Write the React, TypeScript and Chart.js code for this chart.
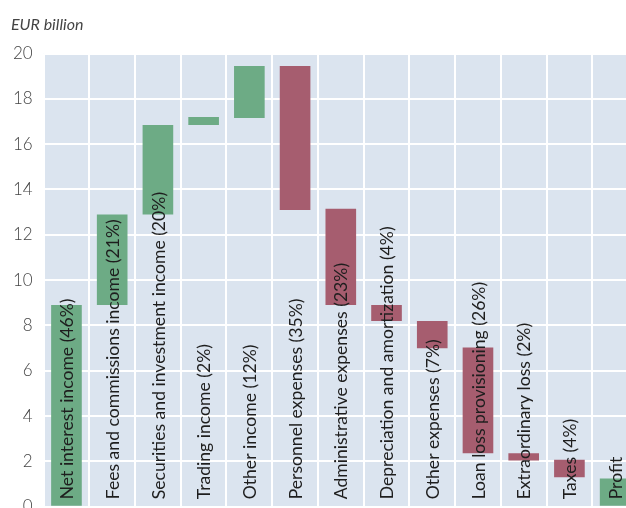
import React, { useEffect, useRef } from "react";
import { Chart, registerables } from "chart.js";

Chart.register(...registerables);

const categories = [
  "Net interest income (46%)",
  "Fees and commissions income (21%)",
  "Securities and investment income (20%)",
  "Trading income (2%)",
  "Other income (12%)",
  "Personnel expenses (35%)",
  "Administrative expenses (23%)",
  "Depreciation and amortization (4%)",
  "Other expenses (7%)",
  "Loan loss provisioning (26%)",
  "Extraordinary loss (2%)",
  "Taxes (4%)",
  "Profit",
];
const barStart = [0, 8.9, 12.9, 16.85, 17.15, 19.45, 13.15, 8.9, 8.2, 7.03, 2.36, 2.08, 0];
const barEnd = [8.9, 12.9, 16.85, 17.2, 19.45, 13.1, 8.9, 8.2, 7.0, 2.36, 2.04, 1.3, 1.25];
const barKind = ["inc", "inc", "inc", "inc", "inc", "exp", "exp", "exp", "exp", "exp", "exp", "exp", "inc"];
const yTicks = [0, 2, 4, 6, 8, 10, 12, 14, 16, 18, 20];
const unitLabel = "EUR billion";

const GREEN = "#6dab85";
const RED = "#a65d6f";
const BG = "#dbe4ef";

export default function App() {
  const ref = useRef<HTMLCanvasElement | null>(null);
  useEffect(() => {
    const canvas = ref.current;
    if (!canvas) return;
    const bgPlugin = {
      id: "bgPlugin",
      beforeDraw(chart: any) {
        const { ctx, chartArea } = chart;
        ctx.save();
        ctx.fillStyle = BG;
        ctx.fillRect(chartArea.left, chartArea.top, chartArea.right - chartArea.left, chartArea.bottom - chartArea.top);
        ctx.restore();
      },
      afterDraw(chart: any) {
        const { ctx, chartArea } = chart;
        const xs = chart.scales.x;
        ctx.save();
        ctx.fillStyle = "#1e1e1e";
        ctx.font = "17.6px Lato";
        ctx.textAlign = "left";
        ctx.textBaseline = "middle";
        categories.forEach((c, i) => {
          const x = xs.getPixelForValue(i);
          ctx.save();
          ctx.translate(x + 1, chartArea.bottom - 7.5);
          ctx.rotate(-Math.PI / 2);
          ctx.fillText(c, 0, 0);
          ctx.restore();
        });
        ctx.fillStyle = "#444";
        ctx.font = "italic 16px Lato";
        ctx.textBaseline = "alphabetic";
        ctx.fillText(unitLabel, 11, 30);
        ctx.restore();
      },
    };
    const chart = new Chart(canvas, {
      type: "bar",
      data: {
        labels: categories,
        datasets: [
          {
            data: barStart.map((s, i) => [s, barEnd[i]]) as any,
            backgroundColor: barKind.map((k) => (k === "inc" ? GREEN : RED)),
            borderWidth: 0,
            barPercentage: 0.67,
            categoryPercentage: 1,
          },
        ],
      },
      options: {
        animation: false,
        responsive: false,
        maintainAspectRatio: false,
        layout: { padding: { top: 53.5, left: 0, right: 2, bottom: 14.5 } },
        plugins: { legend: { display: false }, tooltip: { enabled: false } },
        scales: {
          x: {
            ticks: { display: false },
            grid: { color: "#ffffff", lineWidth: 2, drawTicks: false, offset: true },
            border: { display: false },
          },
          y: {
            min: 0,
            max: 20,
            afterFit(scale: any) {
              scale.width = 43.6;
            },
            afterBuildTicks(scale: any) {
              scale.ticks = yTicks.map((v) => ({ value: v }));
            },
            ticks: {
              padding: 11,
              color: "#444",
              font: { family: "Lato", size: 17, weight: 300 },
            },
            grid: { color: "#ffffff", lineWidth: 2, drawTicks: false },
            border: { display: false },
          },
        },
      },
      plugins: [bgPlugin],
    });
    return () => chart.destroy();
  }, []);
  return (
    <div style={{ position: "fixed", left: 0, top: 0, width: 626, height: 508, overflow: "hidden", background: "#fff" }}>
      <canvas ref={ref} width={640} height={528} style={{ width: 640, height: 528, display: "block" }} />
    </div>
  );
}
